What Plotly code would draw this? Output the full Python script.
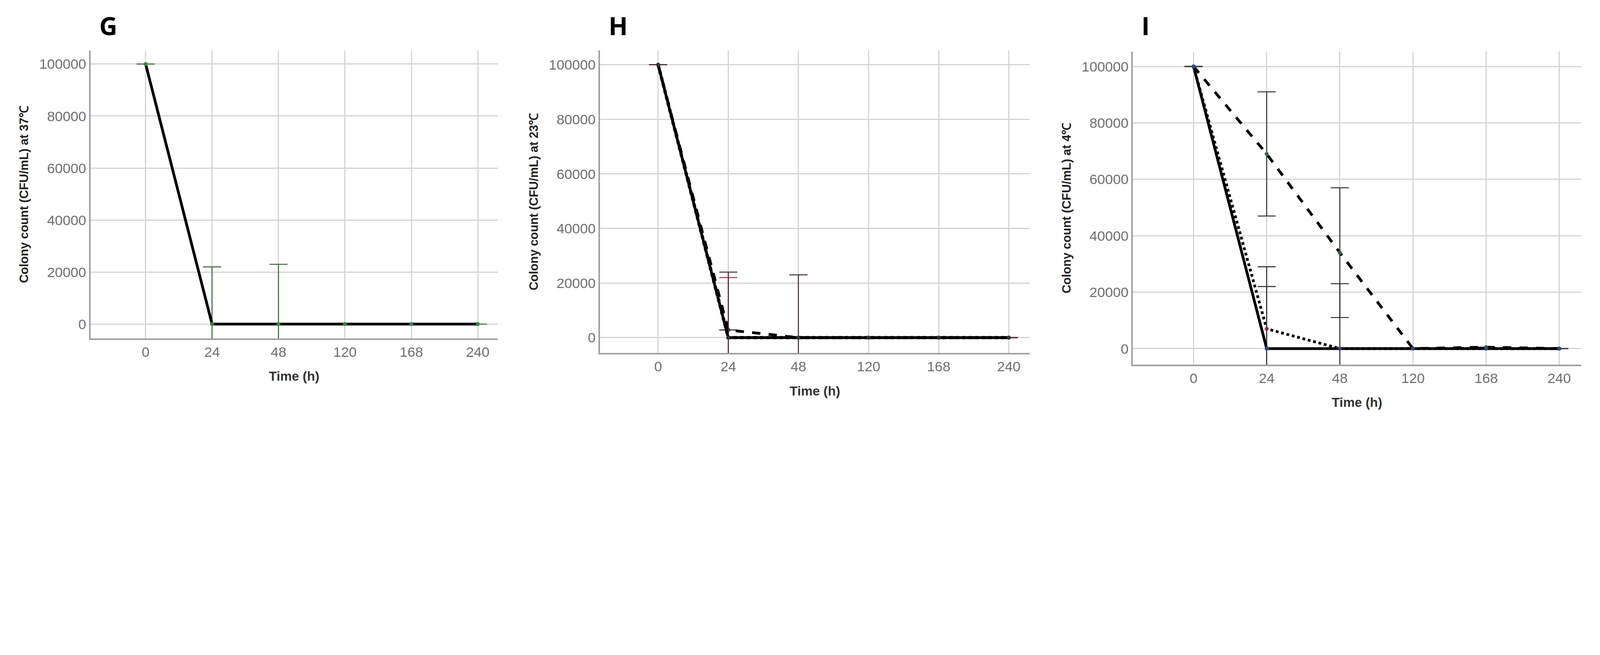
import plotly.graph_objects as go

times = ["0", "24", "48", "120", "168", "240"]
pos = [0, 1, 2, 3, 4, 5]

# panel G, 37C
g_solid = [100000, 0, 0, 0, 0, 0]
g_err = [0, 22000, 23000, 0, 0, 0]

# panel H, 23C
h_solid = [100000, 0, 0, 0, 0, 0]
h_solid_err = [0, 24000, 23000, 0, 0, 0]
h_dashed = [100000, 2800, 0, 0, 0, 0]
h_dotted = [100000, 0, 0, 0, 0, 0]
h_dotted_err = [0, 22000, 0, 0, 0, 0]

# panel I, 4C
i_solid = [100000, 0, 0, 0, 0, 0]
i_solid_err = [0, 22000, 23000, 0, 0, 0]
i_dashed = [100000, 69000, 34000, 0, 500, 0]
i_dashed_err = [0, 22000, 23000, 0, 0, 0]
i_dotted = [100000, 7000, 0, 0, 0, 0]
i_dotted_err = [0, 22000, 0, 0, 0, 0]

# the page is shown with a device pixel ratio of about 1.556
DPR = 1.556
def px(v):
    return v / DPR

fig = go.Figure()

def add(y, err, dash, xa, ya, mcolor, ecolor, width=11):
    fig.add_trace(go.Scatter(
        x=pos, y=y, mode="lines+markers", xaxis=xa, yaxis=ya,
        line=dict(color="black", width=px(width), dash=dash),
        marker=dict(color=mcolor, size=px(16)),
        error_y=dict(type="data", array=err, color=ecolor, thickness=px(4), width=px(36)),
        showlegend=False))

add(g_solid, g_err, "solid", "x", "y", "#2e8b3a", "#3d6b3d")
add(h_dashed, [0]*6, "dash", "x2", "y2", "#333", "#222")
add(h_dotted, h_dotted_err, "dot", "x2", "y2", "#c0304a", "#c0304a", 13)
add(h_solid, h_solid_err, "solid", "x2", "y2", "#333", "#4a2a2a")
add(i_dashed, i_dashed_err, "dash", "x3", "y3", "#2e6b3a", "#333")
add(i_dotted, i_dotted_err, "dot", "x3", "y3", "#c0304a", "#333")
add(i_solid, i_solid_err, "solid", "x3", "y3", "#2a4a8a", "#333")

panels = [
    ("", [0.0553, 0.313], [0.2035, 0.888], [-5500, 105300], "37℃", "G"),
    ("2", [0.3777, 0.6498], [0.169, 0.888], [-5600, 105300], "23℃", "H"),
    ("3", [0.715, 0.9987], [0.1414, 0.885], [-5650, 105300], "4℃", "I"),
]
for sfx, xd, yd, yr, temp, letter in panels:
    fig.update_layout(**{
        "xaxis" + sfx: dict(domain=xd, anchor="y" + sfx, range=[-0.83, 5.3],
                            tickvals=pos, ticktext=times, showgrid=True,
                            gridcolor="#d4d4d4", gridwidth=px(5), showline=True,
                            linecolor="#a0a0a0", linewidth=px(6), zeroline=False,
                            tickfont=dict(size=px(56), color="#707070"), ticks="",
                            title=dict(text="<b>Time (h)</b>", font=dict(size=px(52), color="#333"), standoff=px(50))),
        "yaxis" + sfx: dict(domain=yd, anchor="x" + sfx, range=yr,
                            tickvals=[0, 20000, 40000, 60000, 80000, 100000],
                            tickformat="d",
                            showgrid=True, gridcolor="#d4d4d4", gridwidth=px(5),
                            showline=True, linecolor="#a0a0a0", linewidth=px(6),
                            zeroline=False, ticks="",
                            tickfont=dict(size=px(56), color="#707070"),
                            title=dict(text="<b>Colony count (CFU/mL) at " + temp + "</b>",
                                       font=dict(size=px(48), color="#222"), standoff=px(30))),
    })
    fig.add_annotation(text="<b>" + letter + "</b>", xref="paper", yref="paper",
                       x=xd[0] + 0.005, y=0.99, xanchor="left", yanchor="top",
                       showarrow=False, font=dict(size=px(100), color="black", family="Open Sans"))

fig.update_layout(width=round(6294 / DPR), height=round(1676 / DPR),
                  margin=dict(l=0, r=0, t=0, b=0),
                  plot_bgcolor="white", paper_bgcolor="white",
                  font=dict(family="Liberation Sans"))
fig.write_html("out.html")
